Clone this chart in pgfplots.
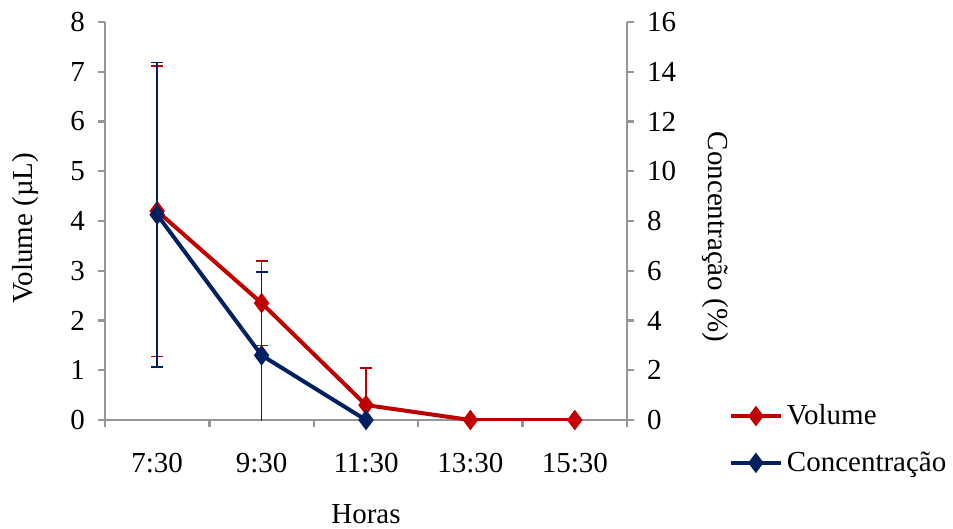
\documentclass[border=0pt]{standalone}
\usepackage{fontspec}
\setmainfont{Liberation Serif}
\usepackage{pgfplots}
\pgfplotsset{compat=1.18}
\definecolor{volred}{RGB}{192,0,0}
\definecolor{conblue}{RGB}{0,32,96}
\definecolor{axgray}{RGB}{150,150,150}

\pgfplotsset{
  common/.style={
    at={(52.5bp,54bp)}, anchor=south west,
    width=261bp, height=199bp, scale only axis,
    xmin=-0.5, xmax=4.5, ymin=0,
    font=\fontsize{14.5bp}{17bp}\selectfont,
    /pgf/number format/assume math mode=true,
    axis line style={axgray, line width=1.2bp},
    tick style={axgray, line width=1.2bp},
    major tick length=3.5bp, minor tick length=3.5bp,
    tick align=outside,
  },
}

\begin{document}
\begin{tikzpicture}[x=1bp,y=1bp]
\useasboundingbox (0,0) rectangle (476.5,264);

\begin{axis}[common,
  ymax=8, ytick={0,...,8},
  axis y line*=left, axis x line*=bottom,
  xtick={0,...,4},
  xticklabels={7:30,9:30,11:30,13:30,15:30},
  minor xtick={-0.5,0.5,...,4.5},
  major x tick style={draw=none},
  xticklabel style={yshift=-9.5bp},
  yticklabel style={xshift=-3bp},
  xlabel={Horas},
  xlabel style={at={(axis description cs:0.5,-0.259)}, anchor=base},
  ylabel={Volume (µL)},
  ylabel style={at={(axis description cs:-0.153,0.482)}, anchor=center, rotate=0},
]
\addplot[volred, line width=2bp, mark=diamond*, mark size=3.5bp,
  error bars/.cd, y dir=both, y explicit,
  error bar style={volred, line width=0.75bp},
  error mark options={volred, rotate=90, mark size=3bp, line width=0.75bp}]
coordinates {
  (0,4.2) +- (0,2.92)
  (1,2.35) +- (0,0.85)
  (2,0.3) +- (0,0.75)
  (3,0) +- (0,0)
  (4,0) +- (0,0)
};
\end{axis}

\begin{axis}[common,
  ymax=16, ytick={0,2,...,16},
  axis y line*=right, axis x line=none,
  yticklabel style={xshift=3bp},
  ylabel={Concentração (\%)},
  ylabel style={at={(axis description cs:1.169,0.46)}, anchor=center, rotate=180},
  legend style={at={(axis description cs:1.183,0.06)}, anchor=north west,
    draw=none, fill=none, cells={anchor=west}, row sep=8bp,
    font=\fontsize{14.5bp}{17bp}\selectfont},
  legend image code/.code={\draw[mark repeat=2,mark phase=2,#1]
    plot coordinates {(0bp,0bp)(12.5bp,0bp)(25bp,0bp)};},
]
\addlegendimage{volred, line width=2bp, mark=diamond*, mark size=3.5bp}
\addlegendentry{Volume}
\addplot[conblue, line width=2bp, mark=diamond*, mark size=3.5bp,
  error bars/.cd, y dir=both, y explicit,
  error bar style={conblue, line width=0.75bp},
  error mark options={conblue, rotate=90, mark size=3bp, line width=0.75bp}]
coordinates {
  (0,8.25) +- (0,6.12)
  (1,2.6) +- (0,3.35)
  (2,0) +- (0,0)
};
\addlegendentry{Concentração}
\end{axis}
\end{tikzpicture}
\end{document}
